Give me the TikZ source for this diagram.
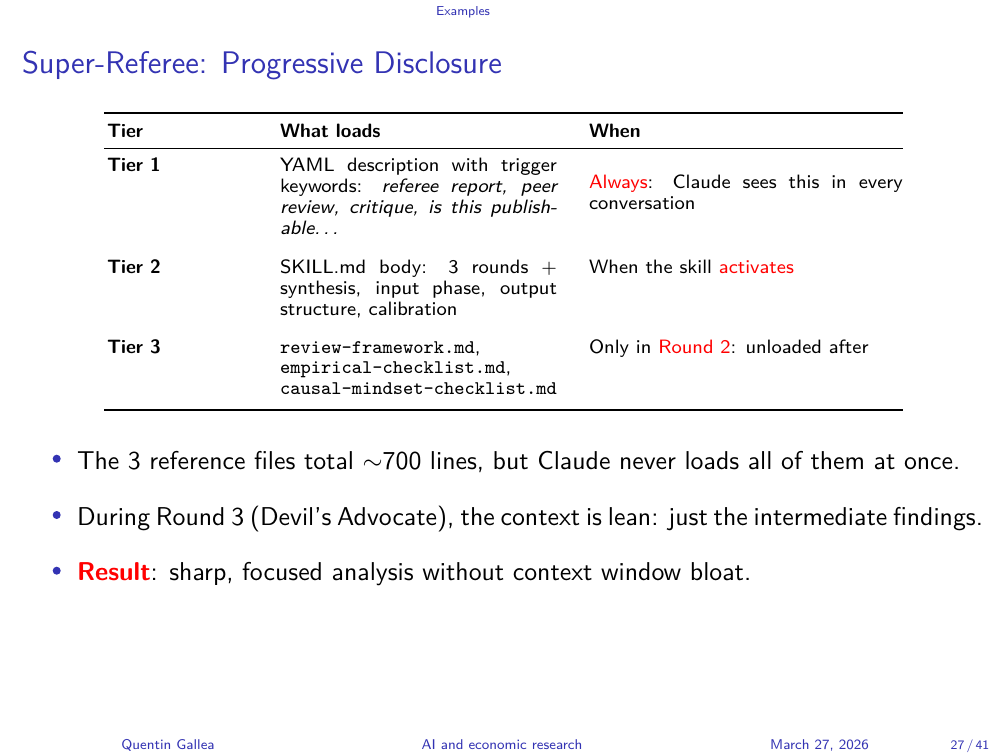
\documentclass[tikz,border=0pt]{standalone}
\usepackage{fontspec}
\definecolor{structblue}{RGB}{51,51,179}
\definecolor{alertred}{RGB}{255,0,0}
\newcommand{\alrt}[1]{\textcolor{alertred}{#1}}
\newcommand{\spdots}{.\kern0.166em.\kern0.166em.}
\begin{document}
\begin{tikzpicture}[x={(0.4246pt,0pt)}, y={(0pt,-0.4246pt)},
  every node/.style={inner sep=0pt, outer sep=0pt},
  headtext/.style={anchor=base, text=structblue, font=\sffamily\fontsize{5.5}{6.5}\selectfont},
  foottext/.style={anchor=base, text=structblue, font=\sffamily\fontsize{6}{7}\selectfont},
  pagetext/.style={anchor=base, text=structblue, font=\sffamily\fontsize{5.5}{6.5}\selectfont},
  titletext/.style={anchor=base west, text=structblue, font=\sffamily\fontsize{13.25}{16}\selectfont},
  tblcell/.style={anchor=base west, font=\sffamily\fontsize{8.2}{8.9}\selectfont},
  tblhead/.style={anchor=base west, font=\sffamily\bfseries\fontsize{8.2}{8.9}\selectfont},
  wraptwo/.style={tblcell, text width=117.6pt, align=justify},
  wrapthree/.style={tblcell, text width=133.3pt, align=justify},
  bodytext/.style={anchor=base west, font=\sffamily\fontsize{10.95}{13.6}\selectfont},
  bulletdot/.style={circle, fill=structblue, minimum size=3.4pt},
  heavyrule/.style={line width=0.85pt},
  lightrule/.style={line width=0.55pt}]

\fill[white] (0,0) rectangle (1008,756);
\useasboundingbox (0,0) rectangle (1008,756);

% header and title
\node[headtext] (hdr) at (463,15.7) {Examples};
\node[titletext] (title) at (22,74) {Super-Referee: Progressive Disclosure};

% table rules
\coordinate (tl) at (104,113.5); \coordinate (tr) at (903,113.5);
\coordinate (ml) at (104,148.5); \coordinate (mr) at (903,148.5);
\coordinate (bl) at (104,409.5); \coordinate (br) at (903,409.5);
\draw[heavyrule] (tl) -- (tr);
\draw[lightrule] (ml) -- (mr);
\draw[heavyrule] (bl) -- (br);

% header row
\node[tblhead] (h1) at (107,138) {Tier};
\node[tblhead] (h2) at (280,138) {What loads};
\node[tblhead] (h3) at (589,138) {When};

% row 1
\node[tblhead] (t1) at (107,172) {Tier 1};
\node[wraptwo] (w1) at (280,172) {YAML description with trigger\linebreak keywords: \textit{referee report, peer\linebreak review, critique, is this publish-\linebreak able\spdots}};
\node[wrapthree] (c1) at (589,188.5) {\alrt{Always}: Claude sees this in every\linebreak conversation};

% row 2
\node[tblhead] (t2) at (107,274) {Tier 2};
\node[wraptwo] (w2) at (280,274) {SKILL.md body: 3 rounds $+$\linebreak synthesis, input phase, output\linebreak structure, calibration};
\node[tblcell] (c2) at (589,274) {When the skill \alrt{activates}};

% row 3
\node[tblhead] (t3) at (107,353) {Tier 3};
\node[tblcell, text width=125pt, align=left] (w3) at (280,353) {\texttt{review-framework.md},\\ \texttt{empirical-checklist.md},\\ \texttt{causal-mindset-checklist.md}};
\node[tblcell] (c3) at (589,353) {Only in \alrt{Round 2}: unloaded after};

% bullets
\node[bulletdot] (d1) at (56.7,458.7) {};
\node[bulletdot] (d2) at (56.7,515) {};
\node[bulletdot] (d3) at (56.7,570.7) {};
\node[bodytext] (b1) at (77,469.3) {The 3 reference files total $\sim$700 lines, but Claude never loads all of them at once.};
\node[bodytext] (b2) at (77,525) {\hbox to 384.7pt{During Round 3 (Devil's Advocate), the context is lean: just the intermediate findings.}};
\node[bodytext] (b3) at (77,580.5) {\textcolor{alertred}{\bfseries Result}: sharp, focused analysis without context window bloat.};

% footer
\node[foottext] (fa) at (168,749) {Quentin Gallea};
\node[foottext] (ft) at (502,749) {AI and economic research};
\node[foottext] (fd) at (819.5,749) {March 27, 2026};
\node[pagetext] (fp) at (970,749) {27\,/\,41};
\end{tikzpicture}
\end{document}
